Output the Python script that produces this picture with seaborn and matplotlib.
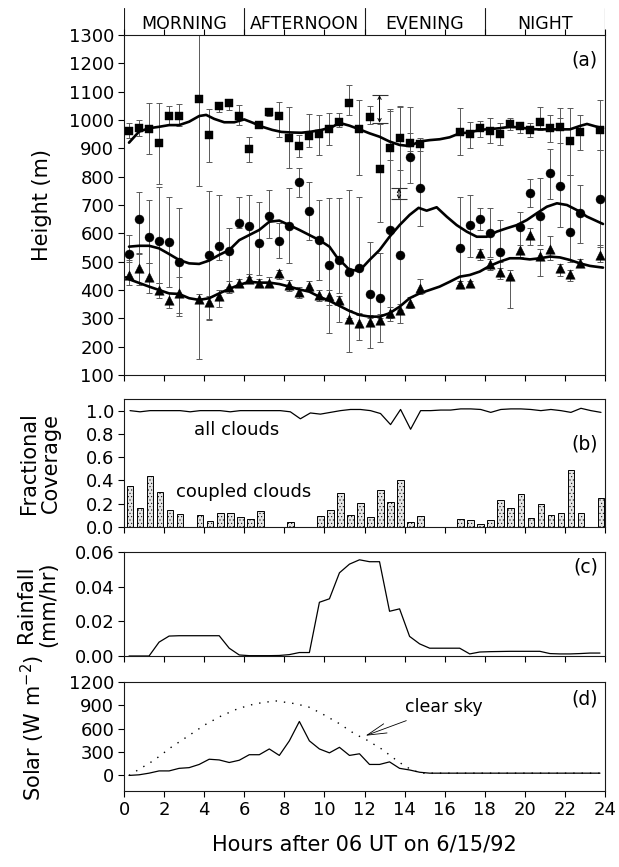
import numpy as np
import pandas as pd
import matplotlib
matplotlib.use('Agg')
import matplotlib.pyplot as plt
import seaborn as sns

# ---------------- data ----------------
periods = ['MORNING', 'AFTERNOON', 'EVENING', 'NIGHT']
period_bounds = [0, 6, 12, 18, 24]

# panel (a): squares (top), circles (middle), triangles (bottom): x, value, low, high
sq_x  = [0.25, 0.75, 1.25, 1.75, 2.25, 2.75, 3.75, 4.25, 4.75, 5.25, 5.75, 6.25, 6.75, 7.25, 7.75, 8.25,
         8.75, 9.25, 9.75, 10.25, 10.75, 11.25, 11.75, 12.25, 12.75, 13.25, 13.75, 14.25, 14.75, 16.75,
         17.25, 17.75, 18.25, 18.75, 19.25, 19.75, 20.25, 20.75, 21.25, 21.75, 22.25, 22.75, 23.75]
sq_v  = [961, 971, 968, 918, 1014, 1015, 1075, 947, 1049, 1059, 1015, 898, 982, 1027, 1015, 938,
         908, 944, 949, 968, 994, 1061, 967, 1009, 826, 900, 935, 920, 914, 956,
         949, 971, 962, 951, 986, 979, 965, 994, 971, 976, 926, 956, 965]
sq_lo = [935, 945, 880, 774, 982, 980, 767, 853, 1029, 1035, 982, 853, 971, 1015, 941, 829,
         868, 905, 876, 912, 976, 1018, 806, 986, 641, 860, 824, 890, 890, 876,
         900, 941, 918, 912, 965, 953, 941, 965, 924, 920, 806, 894, 894]
sq_hi = [991, 1000, 1059, 1059, 1051, 1056, 1300, 1038, 1065, 1072, 1053, 941, 994, 1040, 1065, 1045,
         947, 1020, 1018, 1024, 1024, 1122, 1070, 1049, 985, 1038, 1049, 1045, 935, 1041,
         994, 997, 1006, 988, 1006, 994, 988, 1047, 1018, 1041, 1041, 1018, 1071]

ci_x  = [0.25, 0.75, 1.25, 1.75, 2.25, 2.75, 4.25, 4.75, 5.25, 5.75, 6.25, 6.75, 7.25, 7.75, 8.25, 8.75,
         9.25, 9.75, 10.25, 10.75, 11.25, 11.75, 12.25, 12.75, 13.25, 13.75, 14.25, 14.75, 16.75, 17.25,
         17.75, 18.25, 18.75, 19.75, 20.25, 20.75, 21.25, 21.75, 22.25, 22.75, 23.75]
ci_v  = [527, 649, 586, 574, 571, 500, 524, 556, 539, 635, 627, 567, 661, 574, 627, 780,
         680, 576, 488, 506, 465, 476, 385, 373, 612, 524, 868, 759, 549, 629,
         651, 602, 533, 621, 744, 661, 812, 767, 606, 671, 720]
ci_lo = [500, 527, 494, 424, 409, 318, 294, 506, 412, 618, 447, 453, 582, 512, 494, 729,
         576, 435, 347, 388, 300, 318, 300, 300, 300, 330, 776, 626, 418, 518,
         612, 518, 476, 518, 694, 560, 720, 624, 500, 565, 553]
ci_hi = [594, 747, 718, 762, 729, 688, 751, 735, 618, 729, 735, 712, 753, 635, 759, 829,
         782, 718, 724, 724, 753, 729, 571, 529, 1030, 1045, 953, 918, 729, 735,
         688, 688, 647, 676, 791, 794, 896, 1006, 806, 771, 894]

tr_x  = [0.25, 0.75, 1.25, 1.75, 2.25, 2.75, 3.75, 4.25, 4.75, 5.25, 5.75, 6.25, 6.75, 7.25, 7.75, 8.25,
         8.75, 9.25, 9.75, 10.25, 10.75, 11.25, 11.75, 12.25, 12.75, 13.25, 13.75, 14.25, 14.75, 16.75,
         17.25, 17.75, 18.25, 18.75, 19.25, 19.75, 20.25, 20.75, 21.25, 21.75, 22.25, 22.75, 23.75]
tr_v  = [453, 476, 445, 400, 365, 388, 367, 356, 380, 410, 426, 439, 426, 426, 459, 418,
         392, 414, 382, 380, 364, 297, 282, 288, 294, 320, 331, 353, 406, 420,
         424, 529, 492, 465, 449, 541, 594, 520, 545, 476, 456, 496, 524]
tr_lo = [418, 418, 388, 371, 335, 308, 155, 296, 340, 390, 410, 425, 410, 410, 440, 395,
         371, 395, 360, 247, 288, 182, 223, 194, 217, 290, 282, 335, 385, 410,
         412, 505, 470, 440, 335, 518, 560, 450, 505, 450, 430, 480, 500]
tr_hi = [506, 529, 494, 424, 388, 447, 385, 380, 400, 430, 440, 455, 440, 445, 470, 435,
         410, 430, 400, 400, 380, 330, 310, 310, 315, 340, 350, 375, 440, 432,
         432, 545, 510, 500, 470, 560, 618, 545, 590, 490, 470, 510, 560]

# smoothed curves
sqline_x = [0.25, 0.75, 1.25, 1.75, 2.25, 2.75, 3.25, 3.75, 4.1, 4.5, 5.0, 5.5, 6.0, 6.4, 6.9, 7.4, 7.85,
            8.35, 8.85, 9.35, 9.85, 10.35, 10.75, 11.25, 11.75, 12.25, 12.75, 13.25, 13.75, 14.25, 14.75,
            15.25, 15.75, 16.25, 16.75, 17.25, 17.75, 18.25, 18.75, 19.25, 19.75, 20.25, 20.75, 21.25,
            21.75, 22.25, 22.75, 23.1, 23.6, 23.9]
sqline_v = [920, 959, 971, 976, 982, 982, 994, 1014, 1018, 1004, 992, 992, 1002, 991, 976, 965, 958,
            956, 955, 959, 965, 974, 990, 980, 967, 953, 941, 924, 912, 908, 924,
            929, 932, 939, 953, 956, 965, 968, 971, 976, 974, 968, 967, 967,
            967, 967, 979, 986, 976, 971]
ciline_x = [0.25, 0.75, 1.25, 1.75, 2.25, 2.75, 3.25, 3.75, 4.25, 4.75, 5.25, 5.75, 6.25, 6.75, 7.25, 7.75,
            8.25, 8.75, 9.25, 9.75, 10.25, 10.6, 11.25, 11.75, 12.25, 12.75, 13.25, 13.75, 14.25, 14.7,
            15.1, 15.6, 16.1, 16.6, 17.1, 17.6, 18.1, 18.6, 19.1, 19.6, 20.1, 20.6, 21.1, 21.6, 22.1,
            22.6, 23.1, 23.9]
ciline_v = [553, 556, 556, 547, 527, 506, 494, 492, 504, 524, 541, 576, 594, 612, 641, 645,
            629, 612, 594, 576, 553, 518, 471, 468, 506, 541, 588, 629, 665, 690,
            680, 692, 659, 629, 606, 588, 588, 606, 618, 629, 647, 671, 694, 706, 700,
            682, 659, 633]
trline_x = [0.1, 0.25, 1.25, 2.25, 2.75, 3.25, 3.75, 4.25, 4.75, 5.25, 5.75, 6.25, 6.75, 7.25, 7.75, 8.25,
            8.75, 9.25, 9.75, 10.25, 10.75, 11.25, 11.75, 12.25, 12.75, 13.25, 13.75, 14.25, 14.75, 15.25,
            15.75, 16.25, 16.75, 17.25, 17.75, 18.25, 18.75, 19.25, 19.75, 20.25, 20.75, 21.25, 21.75,
            22.25, 22.75, 23.25, 23.9]
trline_v = [445, 438, 412, 388, 386, 371, 365, 371, 388, 404, 418, 429, 426, 426, 421, 412,
            402, 394, 376, 362, 344, 326, 312, 306, 306, 318, 341, 371, 388, 400,
            412, 429, 447, 453, 465, 485, 500, 512, 512, 508, 512, 518, 515,
            506, 494, 485, 479]

# two range indicators in panel (a)
rng_x  = [12.75, 13.72]
rng_lo = [990, 720]
rng_hi = [1088, 759]

# panel (b): fractional coverage every half hour
cov_x = [0.3 + 0.5 * k for k in range(48)]
all_clouds = [1.00, 0.99, 1.00, 1.00, 1.00, 1.00, 0.99, 1.00, 1.00, 1.00, 0.99, 1.00, 1.00, 1.00, 1.00, 1.00,
              0.99, 0.93, 0.98, 0.97, 0.985, 1.00, 1.01, 1.01, 1.00, 0.975, 0.88, 1.01, 0.84, 1.00, 1.00, 1.005,
              1.005, 1.015, 1.015, 1.01, 0.985, 1.01, 1.015, 1.015, 1.01, 1.00, 1.01, 1.00, 0.985, 1.02, 1.00, 0.985]
coupled = [0.35, 0.165, 0.44, 0.30, 0.15, 0.115, 0.0, 0.107, 0.05, 0.12, 0.12, 0.087, 0.07, 0.136, 0.0, 0.0,
           0.043, 0.0, 0.0, 0.093, 0.15, 0.296, 0.107, 0.21, 0.09, 0.316, 0.217, 0.40, 0.046, 0.098, 0.0, 0.0,
           0.0, 0.072, 0.064, 0.029, 0.064, 0.229, 0.162, 0.281, 0.081, 0.194, 0.101, 0.122, 0.49, 0.119, 0.0, 0.246]

# panel (c) & (d): half-hourly series
hh_x = [0.25 + 0.5 * k for k in range(48)]
rain = [0, 0, 0, 0.008, 0.0115, 0.0117, 0.0117, 0.0117, 0.0117, 0.0117, 0.0045, 0.0006, 0.0002, 0.0002,
        0.0002, 0.0003, 0.0008, 0.002, 0.002, 0.031, 0.033, 0.048, 0.053, 0.0555, 0.0544, 0.0544, 0.0258,
        0.0272, 0.0113, 0.007, 0.0045, 0.0045, 0.0045, 0.0045, 0.0012, 0.0023, 0.0025, 0.0026, 0.0027,
        0.0027, 0.0027, 0.0027, 0.0014, 0.0012, 0.0012, 0.0014, 0.0017, 0.0017]
solar = [0, 8, 29, 58, 58, 91, 100, 141, 208, 199, 166, 195, 266, 266, 340, 257, 444, 693, 444, 340,
         290, 361, 257, 278, 141, 141, 174, 91, 70, 41, 29, 29, 29, 29, 29, 29, 29, 29, 29, 29, 29, 29,
         29, 29, 29, 29, 29, 29]
clear_x = [0.25, 1.5, 2.35, 3.2, 4.05, 4.85, 5.7, 6.55, 7.55, 8.55, 9.2, 9.85, 10.7, 11.55, 12.05, 12.85,
           13.7, 14.35, 14.85, 15.25, 23.75]
clear_sky = [0, 195, 361, 506, 652, 764, 859, 921, 958, 921, 880, 797, 672, 527, 465, 340,
             174, 70, 29, 29, 29]

# ---------------- style ----------------
sns.set_style('ticks')
plt.rcParams['font.family'] = ['DejaVu Sans']
plt.rcParams['mathtext.fontset'] = 'dejavusans'
plt.rcParams['hatch.linewidth'] = 0.35
plt.rcParams['axes.linewidth'] = 0.8
plt.rcParams['axes.edgecolor'] = '0.1'
plt.rcParams['text.color'] = 'black'
plt.rcParams['axes.labelcolor'] = 'black'
plt.rcParams['xtick.color'] = 'black'
plt.rcParams['ytick.color'] = 'black'

W, H = 619, 867
fig = plt.figure(figsize=(W / 100, H / 100), dpi=100)


def rect(l, t, r, b):
    return [l / W, 1 - b / H, (r - l) / W, (b - t) / H]


axH = fig.add_axes(rect(124, 8, 605, 35))
axA = fig.add_axes(rect(124, 35, 605, 375))
axB = fig.add_axes(rect(124, 399, 605, 527))
axC = fig.add_axes(rect(124, 552, 605, 656))
axD = fig.add_axes(rect(124, 682, 605, 791))

TICK = 13
xt = list(range(0, 25, 2))

# header
axH.set_xlim(0, 24)
axH.set_ylim(0, 1)
axH.axis('off')
for b in period_bounds:
    axH.axvline(b, color='0.1', lw=0.8)
for i, name in enumerate(periods):
    axH.text((period_bounds[i] + period_bounds[i + 1]) / 2, 0.42, name, ha='center', va='center',
             fontsize=12.5, color='black')

# panel a
for xs, vs, lo, hi, mk, ms in [(sq_x, sq_v, sq_lo, sq_hi, 's', 32),
                               (ci_x, ci_v, ci_lo, ci_hi, 'o', 42),
                               (tr_x, tr_v, tr_lo, tr_hi, '^', 46)]:
    vs_a = np.array(vs, float)
    err = [vs_a - np.array(lo, float), np.array(hi, float) - vs_a]
    axA.errorbar(xs, vs_a, yerr=err, fmt='none', ecolor='0.35', elinewidth=0.7, capsize=2.5,
                 capthick=0.7, zorder=1)
    sns.scatterplot(x=xs, y=vs, marker=mk, s=ms, color='k', edgecolor='k', linewidth=0.3,
                    ax=axA, zorder=3, legend=False)
for lx, lv in [(sqline_x, sqline_v), (ciline_x, ciline_v), (trline_x, trline_v)]:
    sns.lineplot(x=lx, y=lv, color='k', lw=1.9, ax=axA, zorder=4, estimator=None)
for rx, rl, rh in zip(rng_x, rng_lo, rng_hi):
    axA.annotate('', xy=(rx, rl), xytext=(rx, rh),
                 arrowprops=dict(arrowstyle='<->', color='k', lw=0.7, shrinkA=0, shrinkB=0,
                                 mutation_scale=6))
    axA.hlines([rl, rh], rx - 0.4, rx + 0.4, color='0.2', lw=0.8)
axA.set_ylim(100, 1300)
axA.set_yticks(range(100, 1301, 100))
axA.text(0.985, 0.955, '(a)', transform=axA.transAxes, ha='right', va='top', fontsize=13.5)

# panel b
bar_df = pd.DataFrame({'x': cov_x, 'v': coupled})
bar_df = bar_df[bar_df['v'] > 0]
sns.barplot(data=bar_df, x='x', y='v', native_scale=True, width=0.66, color='#e4e4e4',
            saturation=1, edgecolor='k', linewidth=0.7, errorbar=None, ax=axB)
for p in axB.patches:
    p.set_hatch('.....')
sns.lineplot(x=cov_x, y=all_clouds, color='k', lw=0.9, ax=axB, estimator=None)
axB.set_ylim(0, 1.1)
axB.set_yticks([0, 0.2, 0.4, 0.6, 0.8, 1.0])
axB.set_yticklabels(['%.1f' % v for v in [0, 0.2, 0.4, 0.6, 0.8, 1.0]])
axB.text(5.6, 0.83, 'all clouds', ha='center', va='center', fontsize=13)
axB.text(5.95, 0.30, 'coupled clouds', ha='center', va='center', fontsize=13)
axB.text(0.985, 0.65, '(b)', transform=axB.transAxes, ha='right', va='center', fontsize=13.5)

# panel c
sns.lineplot(x=hh_x, y=rain, color='k', lw=0.9, ax=axC, estimator=None)
axC.set_ylim(0, 0.06)
axC.set_yticks([0, 0.02, 0.04, 0.06])
axC.set_yticklabels(['%.2f' % v for v in [0, 0.02, 0.04, 0.06]])
axC.text(0.985, 0.86, '(c)', transform=axC.transAxes, ha='right', va='center', fontsize=13.5)

# panel d
sns.lineplot(x=clear_x, y=clear_sky, color='k', lw=1.0, ax=axD, estimator=None,
             linestyle=(0, (1, 5)))
sns.lineplot(x=hh_x, y=solar, color='k', lw=0.9, ax=axD, estimator=None)
axD.set_ylim(-200, 1200)
axD.set_yticks([0, 300, 600, 900, 1200])
axD.annotate('clear sky', xy=(12.05, 510), xytext=(14.0, 880), fontsize=12.5, ha='left',
             va='center',
             arrowprops=dict(arrowstyle='->,head_length=1.0,head_width=0.25', color='k', lw=0.6,
                             shrinkA=3, shrinkB=0, mutation_scale=14))
axD.text(0.985, 0.84, '(d)', transform=axD.transAxes, ha='right', va='center', fontsize=13.5)

for ax in (axA, axB, axC, axD):
    ax.set_xlim(0, 24)
    ax.set_xticks(xt)
    ax.set_xlabel('')
    ax.set_ylabel('')
    for s in ax.spines.values():
        s.set_visible(True)
        s.set_linewidth(0.8)
    ax.tick_params(axis='both', direction='out', length=4, width=0.8, labelsize=TICK, pad=3,
                   colors='black')
    if ax is not axD:
        ax.tick_params(axis='x', labelbottom=False)
axD.set_xticklabels([str(v) for v in xt])
axA.tick_params(axis='x', top=True, direction='out')

fig.text(42 / W, 1 - 205 / H, 'Height (m)', rotation=90, ha='center', va='center', fontsize=15)
fig.text(40 / W, 1 - 463 / H, 'Fractional\nCoverage', rotation=90, ha='center', va='center',
         fontsize=15, linespacing=1.15)
fig.text(37 / W, 1 - 604 / H, 'Rainfall\n(mm/hr)', rotation=90, ha='center', va='center',
         fontsize=15, linespacing=1.15)
fig.text(33 / W, 1 - 728 / H, 'Solar (W m$^{-2}$)', rotation=90, ha='center', va='center',
         fontsize=15)
fig.text(364.5 / W, 1 - 845 / H, 'Hours after 06 UT on 6/15/92', ha='center', va='center',
         fontsize=15)

fig.savefig('out.png', dpi=100)
